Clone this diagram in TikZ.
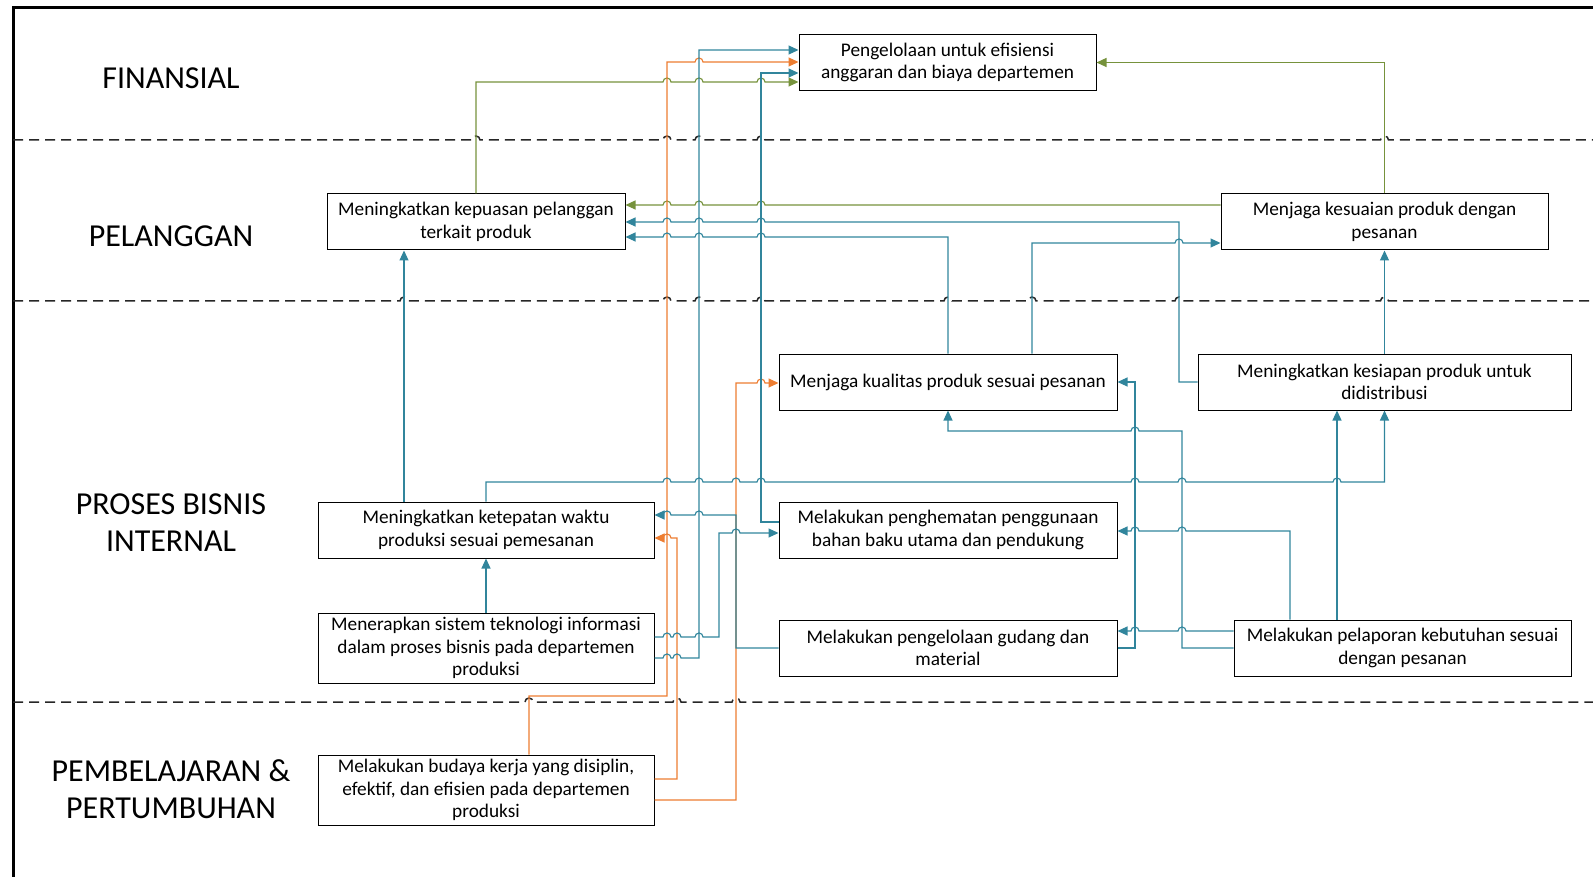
\documentclass[tikz,border=0pt]{standalone}
\usepackage{fontspec}
\setmainfont{Carlito}
\usetikzlibrary{arrows.meta}

\definecolor{biru}{RGB}{49,133,156}
\definecolor{oranye}{RGB}{237,125,49}
\definecolor{hijau}{RGB}{118,146,60}

\newcommand\hopr[2]{-- (#1-4,#2) arc[start angle=180,end angle=0,radius=4pt]}
\newcommand\hopl[2]{-- (#1+4,#2) arc[start angle=0,end angle=180,radius=4pt]}

\begin{document}
\begin{tikzpicture}[x=1pt,y=-1pt,
    panahbiru/.style={draw=biru,line width=1.15pt,-{Triangle[length=10pt,width=9pt]}},
    panahoranye/.style={draw=oranye,line width=1.15pt,-{Triangle[length=10pt,width=9pt]}},
    panahhijau/.style={draw=hijau,line width=1.15pt,-{Triangle[length=10pt,width=9pt]}},
    batas/.style={draw=black!85,line width=1.5pt,dash pattern=on 10pt off 6pt}]

      \useasboundingbox (0,0) rectangle (1593,877);
      \draw[line width=3pt] (1593,8) -- (13,8) -- (13,877);

      \begin{scope}[every node/.style={align=center, font=\fontsize{32}{37}\selectfont}]
        \node (lfin)  at (171,78)  {FINANSIAL};
        \node (lpel)  at (171,236) {PELANGGAN};
        \node (lpro)  at (171,523) {PROSES BISNIS\\INTERNAL};
        \node (lbel)  at (171,789) {PEMBELAJARAN \&\\PERTUMBUHAN};
      \end{scope}

      \begin{scope}[every node/.style={draw, line width=1pt, fill=white, align=center, inner sep=0pt,
          minimum height=56pt, font=\fontsize{19.3}{22.5}\selectfont}]
        \node[minimum width=297pt] (fin)    at (947.5,62.5) {Pengelolaan untuk efisiensi\\anggaran dan biaya departemen};
        \node[minimum width=298pt] (kep)    at (476,222)    {Meningkatkan kepuasan pelanggan\\terkait produk};
        \node[minimum width=327pt] (kes)    at (1384.5,222) {Menjaga kesuaian produk dengan\\pesanan};
        \node[minimum width=338pt] (kual)   at (948,382)    {Menjaga kualitas produk sesuai pesanan};
        \node[minimum width=373pt] (siap)   at (1384.5,382) {Meningkatkan kesiapan produk untuk\\didistribusi};
        \node[minimum width=336pt] (tepat)  at (486,530)    {Meningkatkan ketepatan waktu\\produksi sesuai pemesanan};
        \node[minimum width=338pt] (hemat)  at (948,530)    {Melakukan penghematan penggunaan\\bahan baku utama dan pendukung};
        \node[minimum width=336pt, minimum height=70pt] (ti) at (486,648) {Menerapkan sistem teknologi informasi\\dalam proses bisnis pada departemen\\produksi};
        \node[minimum width=338pt] (gudang) at (948,648)    {Melakukan pengelolaan gudang dan\\material};
        \node[minimum width=337pt] (lapor)  at (1402.5,648) {Melakukan pelaporan kebutuhan sesuai\\dengan pesanan};
        \node[minimum width=336pt, minimum height=70pt] (budaya) at (486,790) {Melakukan budaya kerja yang disiplin,\\efektif, dan efisien pada departemen\\produksi};
      \end{scope}

      \draw[batas] (13,140) \hopr{476}{140} \hopr{667}{140} \hopr{699}{140} \hopr{761}{140} \hopr{1384.5}{140} -- (1593,140);
      \draw[batas] (13,301) \hopr{404}{301} \hopr{667}{301} \hopr{699}{301} \hopr{761}{301} \hopr{948}{301}
        \hopr{1032}{301} \hopr{1179}{301} \hopr{1384.5}{301} -- (1593,301);
      \draw[batas] (13,702) \hopr{529}{702} \hopr{677}{702} \hopr{736}{702} -- (1593,702);

      \draw[panahhijau] (kep.north) -- (476,82) \hopr{667}{82} \hopr{699}{82} \hopr{761}{82} -- (fin.west |- 0,82);
      \draw[panahhijau] (kes.north) |- (fin.east);
      \draw[panahhijau] (kes.west |- 0,205) \hopl{761}{205} \hopl{699}{205} \hopl{667}{205} -- (kep.east |- 0,205);

      \draw[panahoranye] (budaya.north -| 529,0) -- (529,696) -- (667,696) -- (667,62) \hopr{699}{62} -- (fin.west |- 0,62);
      \draw[panahoranye] (budaya.east |- 0,779) -- (677,779) -- (677,538) \hopl{667}{538} -- (tepat.east |- 0,538);
      \draw[panahoranye] (budaya.east |- 0,800) -- (736,800) -- (736,383) \hopr{761}{383} -- (kual.west |- 0,383);

      \draw[panahbiru] (ti.east |- 0,658) \hopr{667}{658} \hopr{677}{658} -- (699,658) -- (699,50) -- (fin.west |- 0,50);
      \draw[panahbiru] (ti.east |- 0,637) \hopr{667}{637} \hopr{677}{637} \hopr{699}{637} -- (719,637) -- (719,533)
        \hopr{736}{533} -- (hemat.west |- 0,533);
      \draw[panahbiru] (hemat.west |- 0,522) -- (761,522) -- (761,73) -- (fin.west |- 0,73);
      \draw[panahbiru] (tepat.north -| 404,0) -- (kep.south -| 404,0);
      \draw[panahbiru] (ti.north) -- (tepat.south);
      \draw[panahbiru] (tepat.north) -- (486,482) \hopr{667}{482} \hopr{699}{482} \hopr{736}{482} \hopr{761}{482}
        \hopr{1135}{482} \hopr{1182}{482} \hopr{1337}{482} -- (1384.5,482) -- (siap.south);
      \draw[panahbiru] (gudang.west) -- (736,648) -- (736,515) \hopl{699}{515} \hopl{667}{515} -- (tepat.east |- 0,515);
      \draw[panahbiru] (siap.west) -- (1179,382) -- (1179,222) \hopl{761}{222} \hopl{699}{222} \hopl{667}{222} -- (kep.east);
      \draw[panahbiru] (kual.north) -- (948,237) \hopl{761}{237} \hopl{699}{237} \hopl{667}{237} -- (kep.east |- 0,237);
      \draw[panahbiru] (kual.north -| 1032,0) -- (1032,243) \hopr{1179}{243} -- (kes.west |- 0,243);
      \draw[panahbiru] (siap.north) -- (kes.south);
      \draw[panahbiru] (gudang.east) -- (1135,648) -- (1135,382) -- (kual.east);
      \draw[panahbiru] (lapor.west) -- (1182,648) -- (1182,431) \hopl{1135}{431} -- (948,431) -- (kual.south);
      \draw[panahbiru] (lapor.west |- 0,631) \hopl{1182}{631} \hopl{1135}{631} -- (gudang.east |- 0,631);
      \draw[panahbiru] (lapor.north -| 1290,0) -- (1290,531) \hopl{1182}{531} \hopl{1135}{531} -- (hemat.east |- 0,531);
      \draw[panahbiru] (lapor.north -| 1337,0) -- (siap.south -| 1337,0);

    \end{tikzpicture}
\end{document}
